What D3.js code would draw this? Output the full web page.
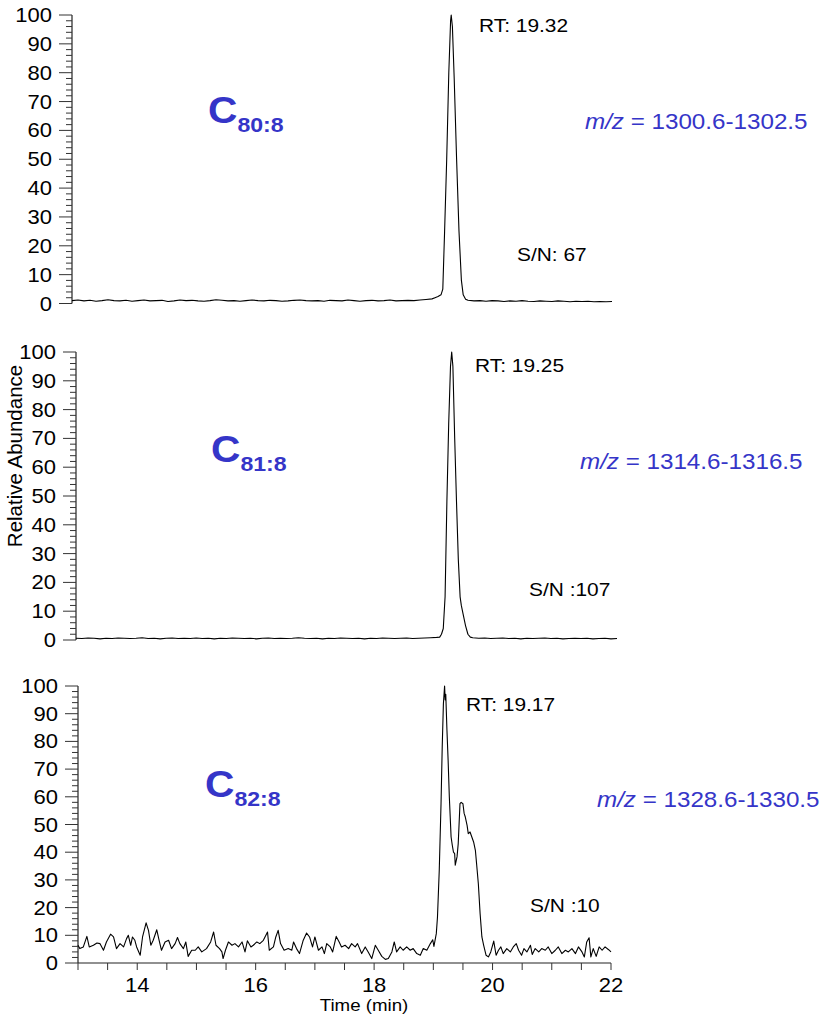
<!DOCTYPE html>
<html>
<head>
<meta charset="utf-8">
<script src="https://cdn.jsdelivr.net/npm/d3@7"></script>
<style>
  body { margin: 0; background: #fff; }
  text { font-family: Arial, "Liberation Sans", sans-serif; }
</style>
</head>
<body>
<div class="canvas"></div>
<script>
// ---- data: [time (min), relative abundance] ----
const traceC80 = [
  [13.0,1.0],[13.1,1.2],[13.2,0.9],[13.3,1.1],[13.4,0.8],[13.5,1.0],[13.6,1.3],[13.7,1.0],[13.8,0.9],[13.9,1.1],
  [14.0,0.8],[14.1,1.0],[14.2,1.2],[14.3,0.9],[14.4,1.0],[14.5,1.1],[14.6,0.7],[14.7,0.9],[14.8,1.2],[14.9,1.0],
  [15.0,1.1],[15.1,0.9],[15.2,0.8],[15.3,1.0],[15.4,1.3],[15.5,1.1],[15.6,0.9],[15.7,1.0],[15.8,0.8],[15.9,1.0],
  [16.0,1.2],[16.1,1.0],[16.2,0.9],[16.3,1.1],[16.4,1.0],[16.5,0.8],[16.6,0.9],[16.7,1.1],[16.8,1.2],[16.9,1.0],
  [17.0,0.9],[17.1,1.0],[17.2,0.8],[17.3,1.1],[17.4,1.0],[17.5,0.9],[17.6,1.2],[17.7,1.0],[17.8,0.8],[17.9,1.0],
  [18.0,1.1],[18.1,0.9],[18.2,1.0],[18.3,1.2],[18.4,0.9],[18.5,1.0],[18.6,1.1],[18.7,1.0],[18.8,1.2],[18.9,1.4],[19.0,1.6],
  [19.05,2.0],[19.1,2.4],[19.15,3.0],[19.18,5],[19.21,25],[19.245,50],[19.28,80],[19.31,98],[19.32,100],[19.34,96],
  [19.37,78],[19.41,50],[19.45,25],[19.49,8],[19.52,3],[19.56,1.5],[19.6,1.1],
  [19.7,0.9],[19.8,1.0],[19.9,0.8],[20.0,1.0],[20.1,0.9],[20.2,0.7],[20.3,0.9],[20.4,0.8],[20.5,1.0],[20.6,0.8],
  [20.7,0.7],[20.8,0.9],[20.9,0.8],[21.0,0.7],[21.1,0.9],[21.2,0.8],[21.3,0.6],[21.4,0.8],[21.5,0.7],[21.6,0.8],
  [21.7,0.6],[21.8,0.7],[21.9,0.6],[22.0,0.7]
]

const traceC81 = [
  [13.0,0.6],[13.1,0.5],[13.2,0.7],[13.3,0.6],[13.4,0.4],[13.5,0.6],[13.6,0.5],[13.7,0.7],[13.8,0.6],[13.9,0.5],
  [14.0,0.6],[14.1,0.8],[14.2,0.5],[14.3,0.6],[14.4,0.4],[14.5,0.6],[14.6,0.7],[14.7,0.5],[14.8,0.6],[14.9,0.5],
  [15.0,0.7],[15.1,0.5],[15.2,0.6],[15.3,0.4],[15.4,0.6],[15.5,0.5],[15.6,0.7],[15.7,0.6],[15.8,0.5],[15.9,0.6],
  [16.0,0.4],[16.1,0.6],[16.2,0.7],[16.3,0.5],[16.4,0.6],[16.5,0.5],[16.6,0.6],[16.7,0.8],[16.8,0.6],[16.9,0.5],
  [17.0,0.6],[17.1,0.4],[17.2,0.6],[17.3,0.5],[17.4,0.7],[17.5,0.6],[17.6,0.5],[17.7,0.6],[17.8,0.4],[17.9,0.6],
  [18.0,0.5],[18.1,0.7],[18.2,0.6],[18.3,0.5],[18.4,0.6],[18.5,0.7],[18.6,0.5],[18.7,0.6],[18.8,0.7],[18.9,0.8],[19.0,0.9],
  [19.05,1.0],[19.08,2],[19.11,4],[19.14,15],[19.17,48],[19.20,75],[19.23,95],[19.25,100],[19.27,95],[19.30,70],
  [19.33,48],[19.36,28],[19.39,15],[19.41,12],[19.44,9],[19.48,5],[19.52,2],[19.56,1],
  [19.6,0.8],[19.7,0.6],[19.8,0.7],[19.9,0.5],[20.0,0.6],[20.1,0.7],[20.2,0.5],[20.3,0.6],[20.4,0.4],[20.5,0.6],
  [20.6,0.5],[20.7,0.6],[20.8,0.7],[20.9,0.5],[21.0,0.6],[21.1,0.4],[21.2,0.5],[21.3,0.6],[21.4,0.5],[21.5,0.6],
  [21.6,0.4],[21.7,0.5],[21.8,0.6],[21.9,0.4],[22.0,0.5]
]

const traceC82 = [
  [13.00,6.4],[13.03,5.2],[13.09,5.8],[13.15,9.6],[13.19,5.8],[13.26,6.4],[13.32,7.2],[13.37,7.0],[13.43,4.6],[13.48,7.6],
  [13.55,10.4],[13.60,9.4],[13.65,5.2],[13.71,7.0],[13.77,5.8],[13.82,8.8],[13.85,10.0],[13.89,6.4],[13.92,9.4],[13.96,8.2],
  [13.99,5.8],[14.05,2.8],[14.09,9.4],[14.15,14.5],[14.19,11.8],[14.23,6.4],[14.27,8.2],[14.33,12.0],[14.37,8.2],[14.41,4.6],
  [14.47,7.6],[14.53,8.2],[14.58,5.2],[14.64,7.0],[14.68,9.2],[14.72,7.0],[14.78,5.2],[14.82,7.6],[14.86,2.4],[14.92,4.6],
  [14.98,4.6],[15.03,5.8],[15.09,4.0],[15.17,5.2],[15.24,7.6],[15.29,11.2],[15.33,6.4],[15.39,5.2],[15.43,4.0],[15.45,1.6],
  [15.49,4.6],[15.54,7.6],[15.60,6.4],[15.65,7.0],[15.71,5.8],[15.77,7.6],[15.82,4.0],[15.86,8.0],[15.92,5.8],[15.96,6.4],
  [16.02,7.6],[16.07,7.0],[16.13,8.2],[16.20,11.2],[16.23,4.6],[16.30,5.8],[16.34,9.4],[16.38,11.8],[16.42,7.0],[16.48,4.6],
  [16.55,5.2],[16.61,4.6],[16.64,7.6],[16.69,5.2],[16.74,3.4],[16.80,8.0],[16.86,10.8],[16.91,9.4],[16.96,5.8],[17.00,9.4],
  [17.06,4.6],[17.12,5.8],[17.16,3.4],[17.20,7.0],[17.26,5.8],[17.30,4.0],[17.36,9.6],[17.41,7.6],[17.45,5.8],[17.51,6.4],
  [17.57,5.2],[17.62,7.0],[17.68,5.8],[17.72,7.0],[17.79,3.4],[17.85,5.8],[17.90,4.0],[17.96,1.6],[18.02,6.4],[18.07,4.6],
  [18.13,2.4],[18.19,1.3],[18.24,1.6],[18.30,4.0],[18.34,7.6],[18.38,4.0],[18.44,5.8],[18.49,4.6],[18.55,5.8],[18.61,4.6],
  [18.66,5.2],[18.72,3.4],[18.78,2.8],[18.83,5.2],[18.89,4.6],[18.95,7.0],[18.99,8.4],[19.01,6.0],
  [19.05,10.6],[19.07,16.6],[19.10,33.5],[19.13,57.5],[19.15,78],[19.17,93.6],[19.19,100],[19.20,95],[19.21,97],[19.23,84],
  [19.25,73],[19.27,60],[19.30,45.5],[19.32,42.5],[19.34,40],[19.36,39.5],[19.37,35.3],[19.40,38.3],[19.42,43],[19.45,57.5],
  [19.47,58],[19.50,57.5],[19.52,54],[19.54,52.7],[19.57,49.7],[19.59,46.7],[19.62,47.3],[19.65,45.5],[19.68,43.7],[19.71,40.7],
  [19.73,35.9],[19.76,28.6],[19.79,17.8],[19.82,9.4],[19.85,6.4],[19.89,2.8],[19.93,2.2],[19.97,4.0],[20.02,7.9],[20.06,2.8],
  [20.10,4.6],[20.14,5.8],[20.18,3.4],[20.24,5.2],[20.30,4.0],[20.35,5.8],[20.40,7.0],[20.44,4.6],[20.49,2.8],[20.53,5.2],
  [20.58,4.0],[20.64,6.4],[20.67,3.1],[20.72,5.2],[20.78,4.0],[20.83,5.2],[20.89,4.6],[20.94,5.8],[21.00,3.4],[21.06,4.6],
  [21.11,5.8],[21.17,3.4],[21.23,4.6],[21.28,4.0],[21.34,5.2],[21.40,3.4],[21.45,5.8],[21.51,4.0],[21.55,2.2],[21.59,7.6],
  [21.63,9.1],[21.66,2.2],[21.70,5.2],[21.75,2.4],[21.80,5.8],[21.85,4.6],[21.90,5.8],[21.96,4.8],[22.00,4.0]
]

const yTickLabels = [0, 10, 20, 30, 40, 50, 60, 70, 80, 90, 100]
const xTickLabels = [14, 16, 18, 20, 22]
const compoundSubs = ["80:8", "81:8", "82:8"]
const rtLabels = ["RT: 19.32", "RT: 19.25", "RT: 19.17"]
const snLabels = ["S/N: 67", "S/N :107", "S/N :10"]
const mzRanges = ["1300.6-1302.5", "1314.6-1316.5", "1328.6-1330.5"]

const width = 823
const height = 1016
const blue = "#3535c8"
const stretch = 1.1   // text in the original is a bit wide

const svg = d3.select(".canvas").append("svg")
    .attr("width", width)
    .attr("height", height)

// panel frames (pixel boxes of each chromatogram)
const panels = [
  { trace: traceC80, x0: 72, x1: 612, top: 15, bottom: 303.5,
    rt: [479, 32], sn: [517, 261], comp: [208, 123], mz: [585, 129] },
  { trace: traceC81, x0: 76, x1: 617, top: 352, bottom: 640,
    rt: [475, 372], sn: [529, 596], comp: [211, 462], mz: [580, 469] },
  { trace: traceC82, x0: 78, x1: 611, top: 686, bottom: 963,
    rt: [466, 711], sn: [530, 912], comp: [205, 797], mz: [597, 807] }
]

function label(g, x, y, size, anchor) {
  return g.append("text")
      .attr("transform", `translate(${x},${y}) scale(${stretch},1)`)
      .attr("text-anchor", anchor || "start")
      .style("font-size", size + "px")
}

panels.forEach(function (p, i) {
  const g = svg.append("g")
  const x = d3.scaleLinear().domain([13, 22]).range([p.x0, p.x1])
  const y = d3.scaleLinear().domain([0, 100]).range([p.bottom, p.top])

  // y axis line + ticks (minor every 2, major every 10)
  g.append("line")
      .attr("x1", p.x0).attr("x2", p.x0)
      .attr("y1", y(0)).attr("y2", y(100))
      .attr("stroke", "#222").attr("stroke-width", 1.2)
  g.selectAll(".ytick")
      .data(d3.range(0, 101, 2))
      .enter().append("line")
      .attr("x1", d => p.x0 - (d % 10 === 0 ? 13 : 6))
      .attr("x2", p.x0)
      .attr("y1", d => y(d)).attr("y2", d => y(d))
      .attr("stroke", "#333").attr("stroke-width", 1)
  yTickLabels.forEach(function (v) {
    label(g, p.x0 - 20, y(v) + 7, 20, "end").text(v)
  })

  // x axis only on bottom panel
  if (i === 2) {
    g.append("line")
        .attr("x1", p.x0).attr("x2", p.x1)
        .attr("y1", y(0)).attr("y2", y(0))
        .attr("stroke", "#222").attr("stroke-width", 1.2)
    g.selectAll(".xtick")
        .data(d3.range(13, 22.01, 0.5))
        .enter().append("line")
        .attr("x1", d => x(d)).attr("x2", d => x(d))
        .attr("y1", y(0)).attr("y2", y(0) + 7)
        .attr("stroke", "#333").attr("stroke-width", 1)
    xTickLabels.forEach(function (v) {
      label(g, x(v), y(0) + 29, 20, "middle").text(v)
    })
  }

  // chromatogram trace
  const line = d3.line()
      .x(d => x(d[0]))
      .y(d => y(d[1]))
  g.append("path")
      .datum(p.trace)
      .attr("d", line)
      .attr("fill", "none")
      .attr("stroke", "#000")
      .attr("stroke-width", 1.1)
      .attr("stroke-linejoin", "round")

  // annotations
  label(g, p.rt[0], p.rt[1], 19).text(rtLabels[i])
  label(g, p.sn[0], p.sn[1], 19).text(snLabels[i])

  const comp = label(g, p.comp[0], p.comp[1], 37)
      .attr("fill", blue).style("font-weight", "bold")
  comp.append("tspan").text("C")
  comp.append("tspan").attr("dy", 9).style("font-size", "21px").text(compoundSubs[i])

  const mz = label(g, p.mz[0], p.mz[1], 22).attr("fill", blue)
  mz.append("tspan").style("font-style", "italic").text("m/z")
  mz.append("tspan").text(" = " + mzRanges[i])
})

// axis titles
svg.append("text")
    .attr("transform", "translate(22,456) rotate(-90)")
    .attr("text-anchor", "middle")
    .style("font-size", "20.5px")
    .text("Relative Abundance")
label(svg, 364, 1011, 17, "middle").text("Time (min)")
</script>
</body>
</html>
